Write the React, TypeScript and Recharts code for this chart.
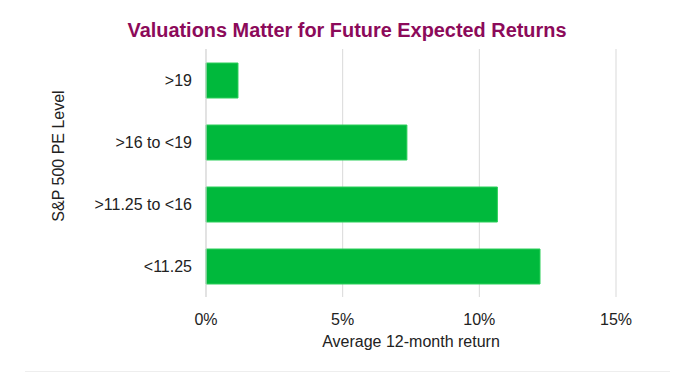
import React from 'react';
import { BarChart, Bar, XAxis, YAxis, CartesianGrid, Label } from 'recharts';

// PE buckets, top to bottom as drawn
const peLevels = ['>19', '>16 to <19', '>11.25 to <16', '<11.25'];
// average 12-month return per bucket
const avgReturns = [0.0117, 0.0735, 0.1066, 0.1222];
const xTicks = [0, 0.05, 0.1, 0.15];

const data = peLevels.map((level, i) => ({ level, ret: avgReturns[i] }));

const FONT = '"Liberation Sans", Arial, sans-serif';

const YTitle = () => (
    <text
        x={64}
        y={156}
        transform="rotate(-90 64 156)"
        textAnchor="middle"
        fill="#222"
        fontSize={16}
        fontFamily={FONT}
    >
        S&amp;P 500 PE Level
    </text>
);

export default function App() {
    return (
        <div style={{ position: 'absolute', left: 0, top: 0, width: 691, height: 373, background: '#fff' }}>
            <svg width={691} height={46} style={{ position: 'absolute', left: 0, top: 0 }}>
                <text
                    x={347}
                    y={37}
                    textAnchor="middle"
                    fill="#8c0a5a"
                    fontSize={19.5}
                    fontWeight="bold"
                    fontFamily={FONT}
                    textLength={439}
                    lengthAdjust="spacingAndGlyphs"
                >
                    Valuations Matter for Future Expected Returns
                </text>
            </svg>
            <BarChart
                width={691}
                height={373}
                data={data}
                layout="vertical"
                margin={{ top: 49, right: 75, bottom: 46, left: 0 }}
            >
                <CartesianGrid horizontal={false} stroke="#d9d9d9" />
                <XAxis
                    type="number"
                    domain={[0, 0.15]}
                    ticks={xTicks}
                    tickFormatter={(v: number) => `${Math.round(v * 100)}%`}
                    axisLine={false}
                    tickLine={false}
                    tickMargin={11}
                    height={30}
                    tick={{ fill: '#222', fontSize: 16, fontFamily: FONT }}
                >
                    <Label
                        value="Average 12-month return"
                        position="bottom"
                        offset={9}
                        fill="#222"
                        fontSize={16}
                        fontFamily={FONT}
                    />
                </XAxis>
                <YAxis
                    type="category"
                    dataKey="level"
                    width={206}
                    axisLine={{ stroke: '#d9d9d9' }}
                    tickLine={false}
                    tickMargin={8}
                    tick={{ fill: '#222', fontSize: 16, fontFamily: FONT }}
                >
                    <Label content={<YTitle />} />
                </YAxis>
                <Bar
                    dataKey="ret"
                    barSize={35}
                    fill="#00b93c"
                    stroke="#2ccf5a"
                    strokeWidth={1}
                    isAnimationActive={false}
                />
            </BarChart>
            <div style={{ position: 'absolute', left: 25, top: 371, width: 645, height: 1, background: '#eeeeee' }} />
        </div>
    );
}
